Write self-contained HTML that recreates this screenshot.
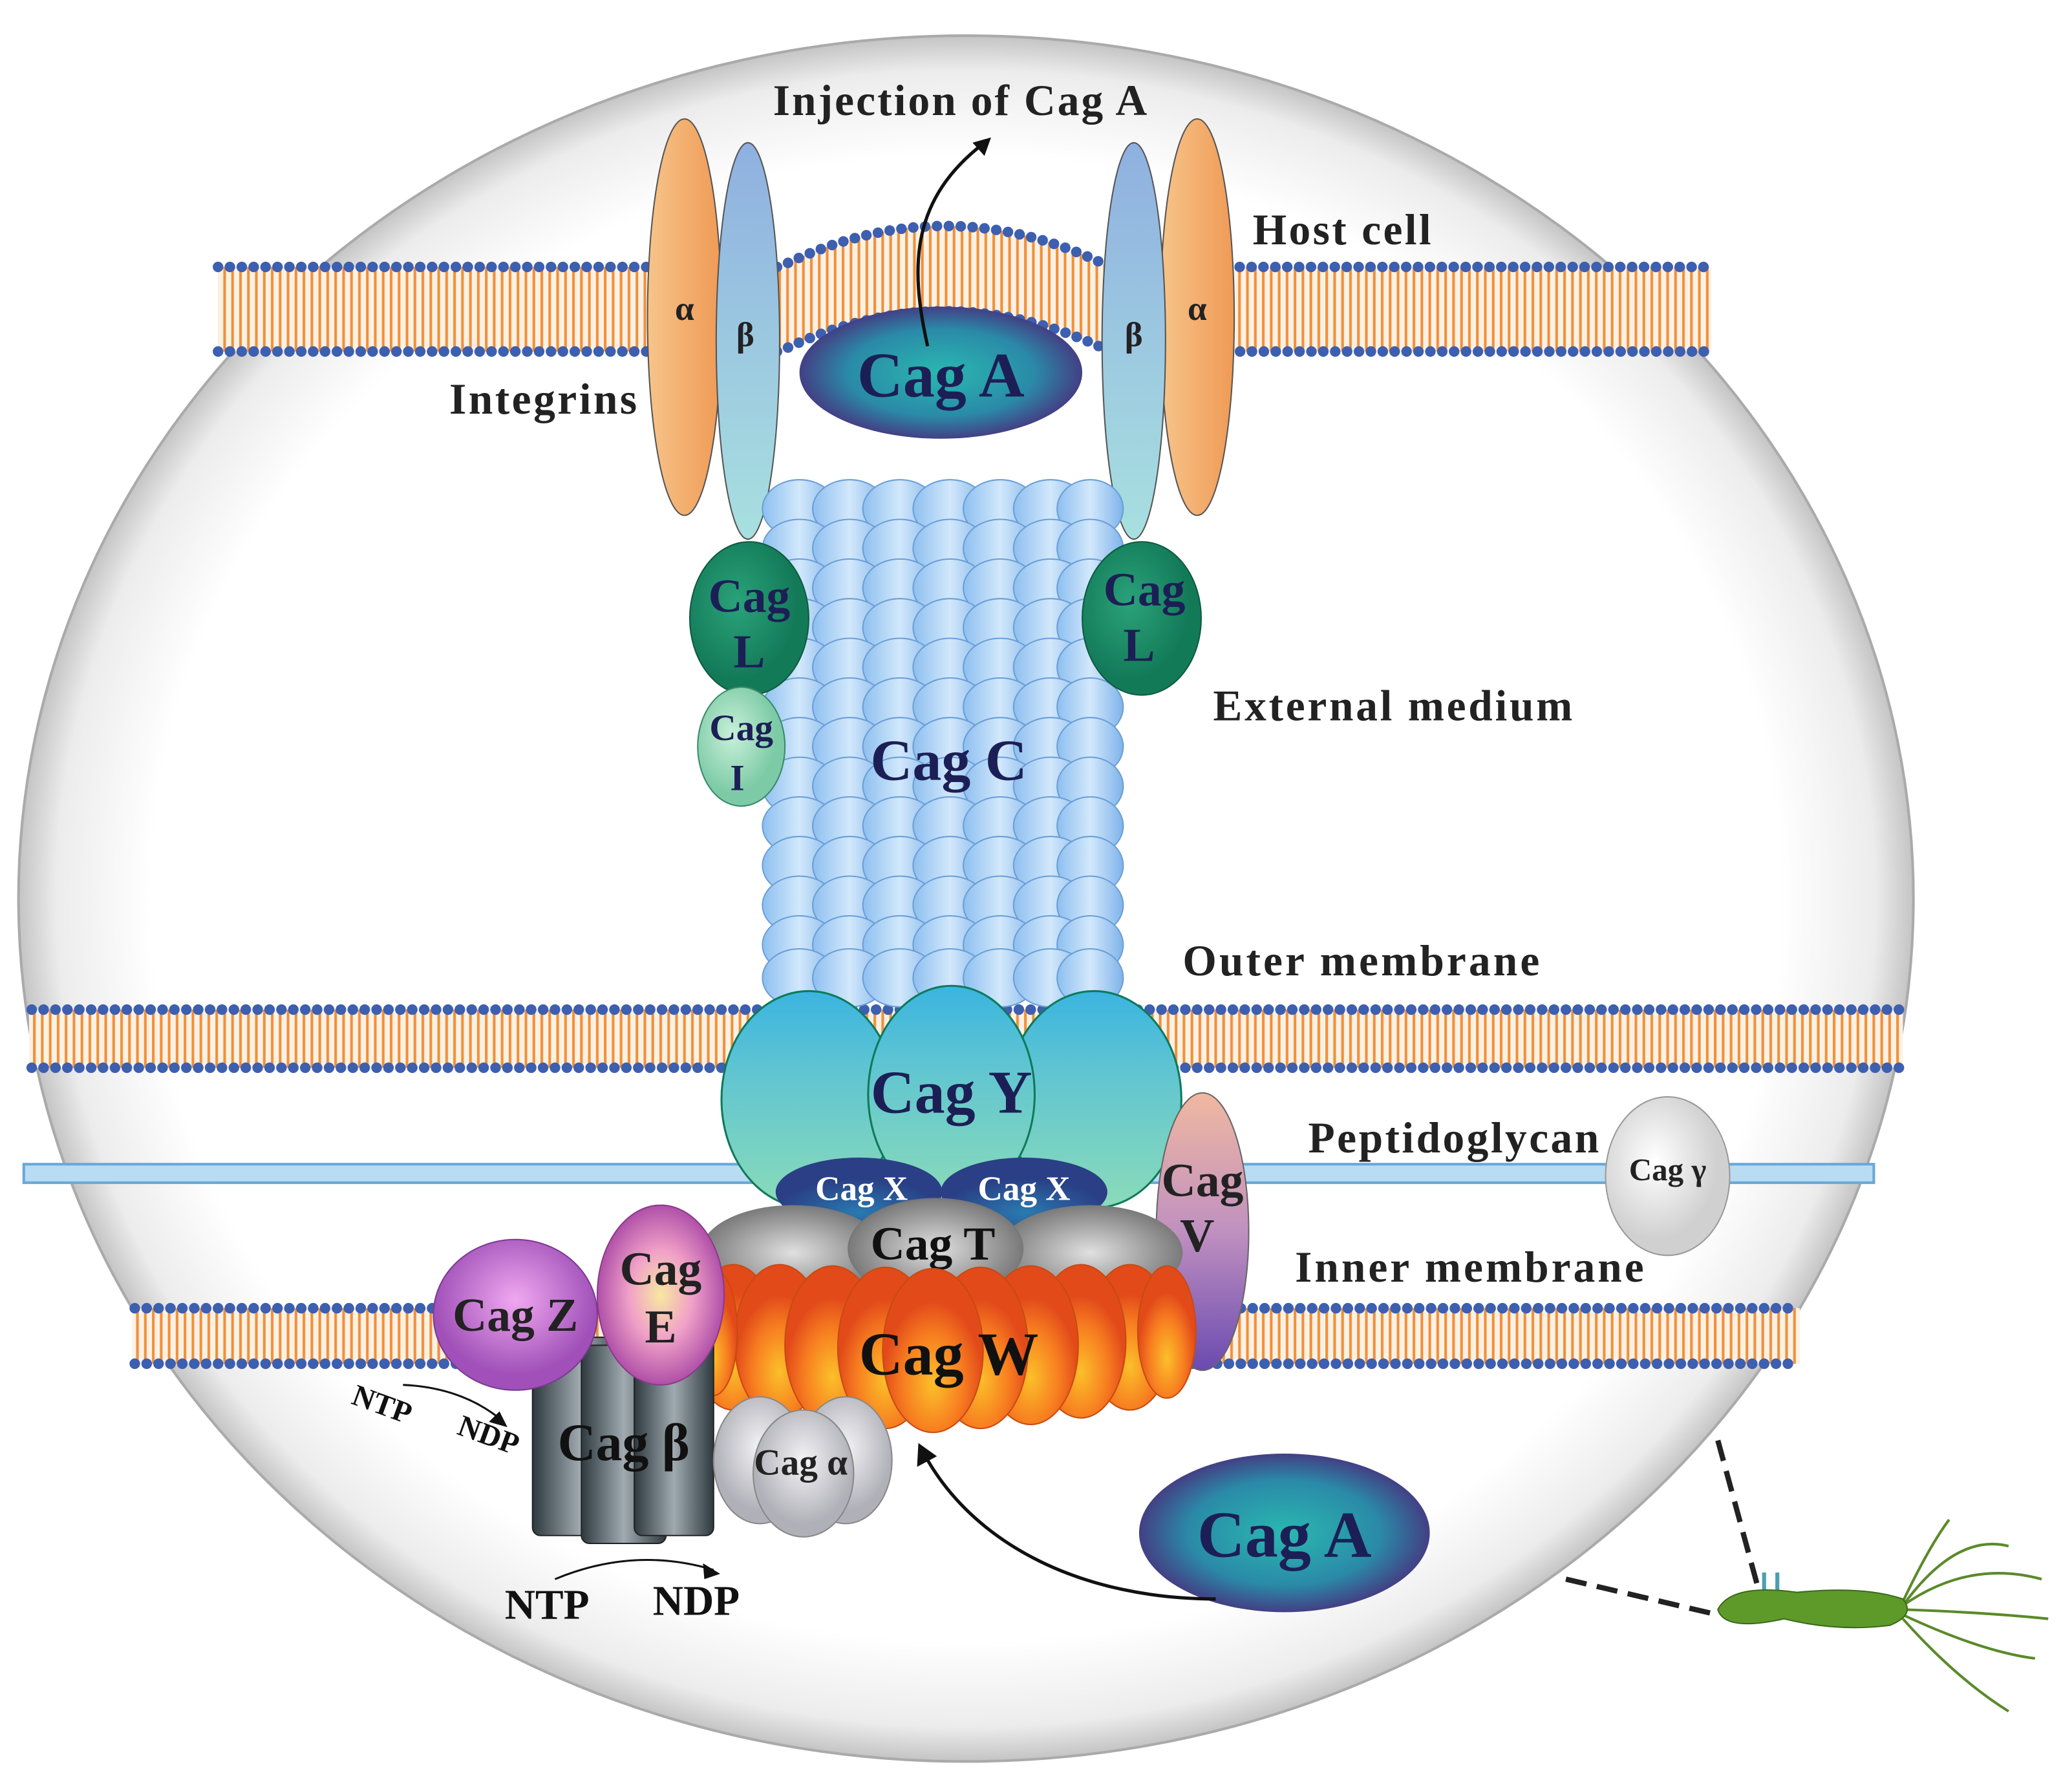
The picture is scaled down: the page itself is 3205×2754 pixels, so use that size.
<!DOCTYPE html>
<html><head><meta charset="utf-8"><style>
html,body{margin:0;padding:0;background:#fff}
svg{display:block}
text{font-family:"Liberation Serif",serif;font-weight:bold}
</style></head><body>
<svg width="3205" height="2754" viewBox="0 0 1568 1347" preserveAspectRatio="none" xmlns="http://www.w3.org/2000/svg">
<defs>
<radialGradient id="bg" cx="50%" cy="50%" r="50%"><stop offset="0.86" stop-color="#fff"/><stop offset="0.96" stop-color="#ececec"/><stop offset="1" stop-color="#c4c4c4"/></radialGradient>
<pattern id="lip" width="6" height="60" patternUnits="userSpaceOnUse"><rect width="6" height="60" fill="#fdf1e4"/><rect x="1" width="2" height="60" fill="#f0903a"/></pattern>
<linearGradient id="org" x1="0" x2="1"><stop offset="0" stop-color="#f7c48a"/><stop offset="1" stop-color="#ef9a55"/></linearGradient>
<linearGradient id="blu" x1="0" x2="0" y1="0" y2="1"><stop offset="0" stop-color="#8fb0e0"/><stop offset="1" stop-color="#a8e0e0"/></linearGradient>
<radialGradient id="caga" cx="50%" cy="50%" r="55%"><stop offset="0" stop-color="#2ab8b0"/><stop offset="0.6" stop-color="#2a8aa8"/><stop offset="1" stop-color="#4a2a7a"/></radialGradient>
<linearGradient id="bub" x1="0" x2="1"><stop offset="0" stop-color="#8dbff0"/><stop offset="0.5" stop-color="#d2e8fb"/><stop offset="1" stop-color="#7fb3ea"/></linearGradient>
<radialGradient id="grn" cx="40%" cy="40%"><stop offset="0" stop-color="#2aa27a"/><stop offset="1" stop-color="#137a58"/></radialGradient>
<radialGradient id="lgrn" cx="40%" cy="40%"><stop offset="0" stop-color="#c8f0d8"/><stop offset="1" stop-color="#7ccaa6"/></radialGradient>
<linearGradient id="cy" x1="0" x2="0" y1="0" y2="1"><stop offset="0" stop-color="#3ab4e0"/><stop offset="0.4" stop-color="#62c6d0"/><stop offset="1" stop-color="#8adbb8"/></linearGradient>
<radialGradient id="cx" cx="50%" cy="80%"><stop offset="0" stop-color="#2a7ab0"/><stop offset="1" stop-color="#2a3f85"/></radialGradient>
<radialGradient id="ct" cx="50%" cy="50%"><stop offset="0" stop-color="#e0e0e0"/><stop offset="1" stop-color="#7a7a7a"/></radialGradient>
<radialGradient id="cw" cx="50%" cy="70%"><stop offset="0" stop-color="#fbc02a"/><stop offset="0.6" stop-color="#f77d20"/><stop offset="1" stop-color="#e24a1a"/></radialGradient>
<linearGradient id="cv" x1="0" x2="0" y1="0" y2="1"><stop offset="0" stop-color="#f0b8a0"/><stop offset="0.5" stop-color="#c090c0"/><stop offset="1" stop-color="#6a4ab0"/></linearGradient>
<radialGradient id="ce" cx="50%" cy="50%"><stop offset="0" stop-color="#f8e8a0"/><stop offset="0.5" stop-color="#f0a0c8"/><stop offset="1" stop-color="#b050a8"/></radialGradient>
<radialGradient id="cz" cx="50%" cy="40%"><stop offset="0" stop-color="#f0a8f0"/><stop offset="1" stop-color="#a050b8"/></radialGradient>
<linearGradient id="cb" x1="0" x2="1"><stop offset="0" stop-color="#2e3a40"/><stop offset="0.5" stop-color="#a0aab0"/><stop offset="1" stop-color="#2e3a40"/></linearGradient>
<radialGradient id="ca" cx="50%" cy="40%"><stop offset="0" stop-color="#f4f4f6"/><stop offset="1" stop-color="#b0b0b8"/></radialGradient>
<radialGradient id="cg" cx="40%" cy="40%"><stop offset="0" stop-color="#ffffff"/><stop offset="1" stop-color="#d0d0d0"/></radialGradient>
<g id="row">
<ellipse cx="605" cy="0" rx="28" ry="22"/><ellipse cx="643" cy="0" rx="28" ry="22"/><ellipse cx="681" cy="0" rx="28" ry="22"/><ellipse cx="719" cy="0" rx="28" ry="22"/><ellipse cx="757" cy="0" rx="28" ry="22"/><ellipse cx="795" cy="0" rx="28" ry="22"/><ellipse cx="825" cy="0" rx="25" ry="22"/>
</g>
</defs>
<rect width="1568" height="1347" fill="#fff"/>
<ellipse cx="731" cy="680" rx="717" ry="653" fill="url(#bg)" stroke="#aaa" stroke-width="2"/>

<!-- host membrane -->
<path d="M165,202 L590,202 Q715,140 840,202 L1295,202 L1295,266 L840,266 Q715,205 590,266 L165,266 Z" fill="url(#lip)"/>
<g fill="none" stroke="#3d5fb0" stroke-width="8" stroke-linecap="round" stroke-dasharray="0 9">
<path d="M165,202 L590,202 Q715,140 840,202 L1295,202"/>
<path d="M165,266 L590,266 Q715,205 840,266 L1295,266"/>
</g>
<rect x="22" y="764" width="1418" height="44" fill="url(#lip)"/>
<g stroke="#3d5fb0" stroke-width="8" stroke-linecap="round" stroke-dasharray="0 9"><line x1="24" y1="764" x2="1440" y2="764"/><line x1="24" y1="808" x2="1440" y2="808"/></g>
<rect x="18" y="881" width="1400" height="14" fill="#b8dcf2" stroke="#6aa8d8" stroke-width="2"/>
<rect x="100" y="990" width="1262" height="42" fill="url(#lip)"/>
<g stroke="#3d5fb0" stroke-width="8" stroke-linecap="round" stroke-dasharray="0 9"><line x1="102" y1="990" x2="1362" y2="990"/><line x1="102" y1="1032" x2="1362" y2="1032"/></g>

<g stroke="#555" stroke-width="1">
<ellipse cx="518" cy="240" rx="28" ry="150" fill="url(#org)"/>
<ellipse cx="566" cy="258" rx="24" ry="150" fill="url(#blu)"/>
<ellipse cx="906" cy="240" rx="28" ry="150" fill="url(#org)"/>
<ellipse cx="858" cy="258" rx="24" ry="150" fill="url(#blu)"/>
</g>
<g font-size="26" fill="#222" text-anchor="middle"><text x="518" y="242">α</text><text x="564" y="262">β</text><text x="858" y="262">β</text><text x="906" y="242">α</text></g>

<ellipse cx="712" cy="282" rx="107" ry="50" fill="url(#caga)"/>
<text x="712" y="300" font-size="48" fill="#1c1f55" text-anchor="middle">Cag A</text>
<path d="M702,262 C688,200 690,150 745,108" fill="none" stroke="#111" stroke-width="2.5"/>
<path d="M750,104 L736,108 L745,118 Z" fill="#111"/>

<g stroke="#6a9ed6" stroke-width="1" fill="url(#bub)">
<use href="#row" y="385"/><use href="#row" y="415"/><use href="#row" y="445"/><use href="#row" y="475"/><use href="#row" y="505"/><use href="#row" y="535"/><use href="#row" y="565"/><use href="#row" y="595"/><use href="#row" y="625"/><use href="#row" y="655"/><use href="#row" y="685"/><use href="#row" y="715"/><use href="#row" y="740"/>
</g>
<text x="718" y="590" font-size="44" fill="#1c1f55" text-anchor="middle">Cag C</text>

<ellipse cx="567" cy="468" rx="45" ry="58" fill="url(#grn)" stroke="#0d5a40"/>
<ellipse cx="864" cy="468" rx="45" ry="58" fill="url(#grn)" stroke="#0d5a40"/>
<ellipse cx="561" cy="565" rx="33" ry="45" fill="url(#lgrn)" stroke="#3a8a6a"/>
<g fill="#1c1f55" text-anchor="middle"><text x="567" y="463" font-size="36">Cag</text><text x="567" y="505" font-size="36">L</text><text x="866" y="458" font-size="36">Cag</text><text x="862" y="500" font-size="36">L</text><text x="561" y="560" font-size="28">Cag</text><text x="558" y="598" font-size="28">I</text></g>

<g stroke="#0f7a5a" stroke-width="1.5" fill="url(#cy)">
<ellipse cx="612" cy="832" rx="66" ry="82"/><ellipse cx="828" cy="832" rx="66" ry="82"/><ellipse cx="720" cy="828" rx="63" ry="82"/>
</g>
<text x="720" y="842" font-size="46" fill="#1c1f55" text-anchor="middle">Cag Y</text>

<ellipse cx="910" cy="932" rx="35" ry="105" fill="url(#cv)" stroke="#666"/>
<g fill="#222" text-anchor="middle" font-size="36"><text x="910" y="905">Cag</text><text x="906" y="947">V</text></g>

<ellipse cx="650" cy="902" rx="63" ry="26" fill="url(#cx)"/><ellipse cx="775" cy="902" rx="63" ry="26" fill="url(#cx)"/>
<g fill="#fff" font-size="26" text-anchor="middle"><text x="652" y="908">Cag X</text><text x="775" y="908">Cag X</text></g>

<ellipse cx="600" cy="948" rx="70" ry="36" fill="url(#ct)"/><ellipse cx="825" cy="948" rx="70" ry="36" fill="url(#ct)"/>
<ellipse cx="708" cy="945" rx="66" ry="38" fill="url(#ct)" stroke="#777"/>
<text x="706" y="953" font-size="36" fill="#111" text-anchor="middle">Cag T</text>

<g fill="url(#cw)" stroke="#c84a10" stroke-width="1">
<ellipse cx="555" cy="1012" rx="32" ry="55"/><ellipse cx="855" cy="1012" rx="32" ry="55"/>
<ellipse cx="590" cy="1015" rx="34" ry="58"/><ellipse cx="818" cy="1015" rx="34" ry="58"/>
<ellipse cx="630" cy="1018" rx="36" ry="60"/><ellipse cx="780" cy="1018" rx="36" ry="60"/>
<ellipse cx="670" cy="1020" rx="36" ry="61"/><ellipse cx="742" cy="1020" rx="36" ry="61"/>
<ellipse cx="706" cy="1022" rx="38" ry="62"/>
<ellipse cx="883" cy="1008" rx="22" ry="50"/><ellipse cx="540" cy="1008" rx="18" ry="48"/>
</g>
<text x="718" y="1040" font-size="46" fill="#111" text-anchor="middle">Cag W</text>

<rect x="403" y="1012" width="72" height="150" rx="6" fill="url(#cb)" stroke="#222"/>
<rect x="440" y="1018" width="64" height="150" rx="6" fill="url(#cb)" stroke="#222"/>
<rect x="480" y="1012" width="60" height="150" rx="6" fill="url(#cb)" stroke="#222"/>
<text x="472" y="1105" font-size="40" fill="#111" text-anchor="middle">Cag β</text>

<ellipse cx="390" cy="995" rx="62" ry="57" fill="url(#cz)" stroke="#7a3a90"/>
<text x="390" y="1007" font-size="36" fill="#222" text-anchor="middle">Cag Z</text>
<ellipse cx="500" cy="980" rx="48" ry="68" fill="url(#ce)" stroke="#8a3a8a"/>
<g fill="#222" font-size="36" text-anchor="middle"><text x="500" y="972">Cag</text><text x="500" y="1016">E</text></g>

<g fill="url(#ca)" stroke="#888"><ellipse cx="575" cy="1105" rx="35" ry="48"/><ellipse cx="640" cy="1105" rx="35" ry="48"/><ellipse cx="608" cy="1115" rx="38" ry="48"/></g>
<text x="606" y="1116" font-size="28" fill="#222" text-anchor="middle">Cag α</text>

<ellipse cx="972" cy="1160" rx="110" ry="60" fill="url(#caga)"/>
<text x="972" y="1178" font-size="50" fill="#1c1f55" text-anchor="middle">Cag A</text>
<path d="M920,1210 C820,1210 740,1170 702,1105" fill="none" stroke="#111" stroke-width="2.5"/>
<path d="M695,1092 L694,1110 L709,1102 Z" fill="#111"/>

<ellipse cx="1262" cy="890" rx="47" ry="60" fill="url(#cg)" stroke="#999"/>
<text x="1262" y="893" font-size="24" fill="#222" text-anchor="middle">Cag γ</text>

<g fill="#111" font-size="32">
<text x="382" y="1225">NTP</text><text x="494" y="1222">NDP</text>
<text x="265" y="1062" font-size="23" transform="rotate(20 265 1062)">NTP</text>
<text x="345" y="1085" font-size="23" transform="rotate(20 345 1085)">NDP</text>
</g>
<path d="M420,1195 Q480,1170 540,1188" fill="none" stroke="#111" stroke-width="1.5"/><path d="M545,1191 L532,1183 L533,1195Z" fill="#111"/>
<path d="M305,1048 Q350,1050 380,1075" fill="none" stroke="#111" stroke-width="1.5"/><path d="M384,1080 L370,1076 L378,1068Z" fill="#111"/>

<g fill="#222" font-size="33" lengthAdjust="spacingAndGlyphs">
<text x="585" y="87" textLength="283">Injection of Cag A</text>
<text x="948" y="185" textLength="135">Host cell</text>
<text x="340" y="313" textLength="142">Integrins</text>
<text x="918" y="545" textLength="272">External medium</text>
<text x="895" y="738" textLength="270">Outer membrane</text>
<text x="990" y="872" textLength="220">Peptidoglycan</text>
<text x="980" y="970" textLength="264">Inner membrane</text>
</g>

<g stroke="#222" stroke-width="4" stroke-dasharray="16 8"><line x1="1300" y1="1090" x2="1330" y2="1200"/><line x1="1185" y1="1195" x2="1300" y2="1222"/></g>
<g fill="none" stroke="#5a8a2a" stroke-width="2">
<path d="M1440,1215 Q1480,1160 1520,1170"/><path d="M1440,1215 Q1490,1180 1545,1195"/><path d="M1440,1218 Q1500,1220 1550,1225"/><path d="M1440,1222 Q1500,1250 1540,1255"/><path d="M1440,1225 Q1480,1270 1520,1295"/><path d="M1440,1212 Q1460,1170 1475,1150"/>
</g>
<line x1="1335" y1="1190" x2="1335" y2="1205" stroke="#4aa0b0" stroke-width="3"/><line x1="1345" y1="1190" x2="1345" y2="1205" stroke="#4aa0b0" stroke-width="3"/>
<path d="M1300,1218 Q1310,1198 1360,1205 Q1410,1200 1440,1210 Q1450,1222 1430,1230 Q1390,1235 1350,1225 Q1305,1235 1300,1218Z" fill="#5e9a2a" stroke="#3a6a1a"/>
</svg>
</body></html>
